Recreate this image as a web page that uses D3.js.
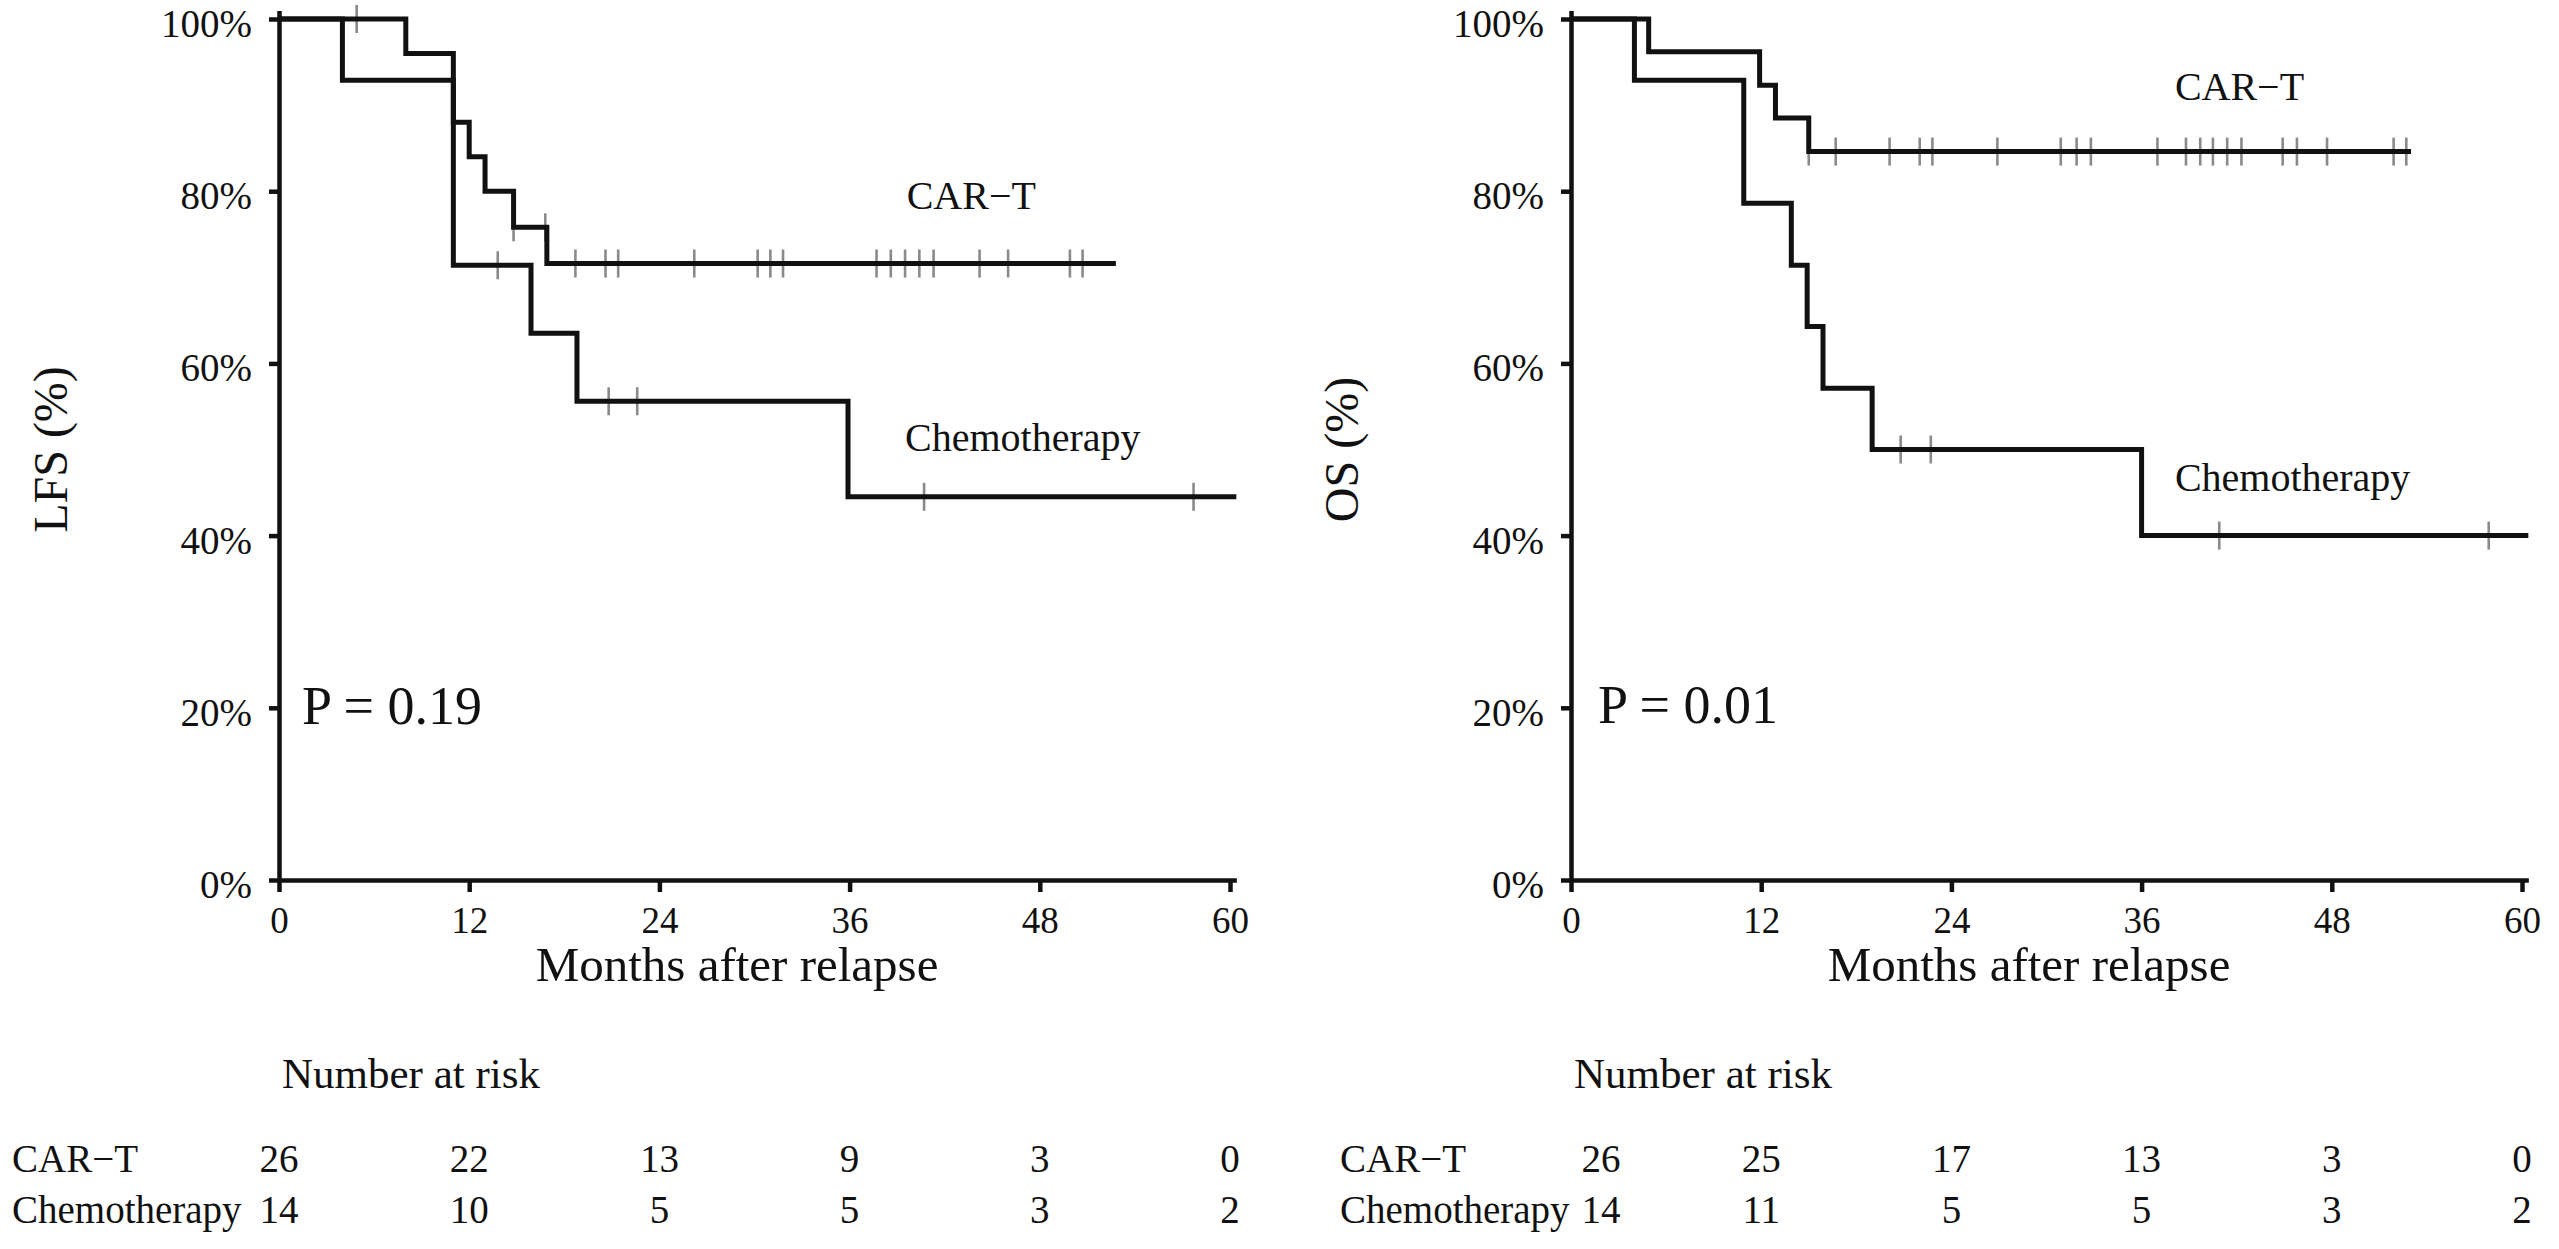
<!DOCTYPE html>
<html>
<head>
<meta charset="utf-8">
<script src="https://cdn.jsdelivr.net/npm/d3@7"></script>
<style>
  html, body { margin: 0; padding: 0; background: #fff; }
  svg { display: block; }
  text { font-family: "Liberation Serif", "Times New Roman", serif; fill: #111; }
</style>
</head>
<body>
<div id="chart"></div>
<script>
// Kaplan-Meier curves, LFS (left) and OS (right)
const monthTicks = [0, 12, 24, 36, 48, 60];
const survTicks = [0, 0.2, 0.4, 0.6, 0.8, 1];
const groups = ['CAR\u2212T', 'Chemotherapy'];

// LFS - CAR-T : [month, survival] at each drop
const lfsCarTSteps = [[0, 1], [8, 0.96], [11, 0.88], [12, 0.84], [13, 0.80], [14.8, 0.758], [16.9, 0.716]];
const lfsCarTEnd = 52.8;
const lfsCarTCensor = [4.9, 14.8, 16.8, 18.7, 20.6, 21.4, 26.2, 30.2, 31.0, 31.8, 37.7, 38.6, 39.5, 40.4, 41.3, 44.2, 46.0, 49.9, 50.7];

// LFS - Chemotherapy
const lfsChemoSteps = [[0, 1], [4, 0.929], [11, 0.714], [15.9, 0.635], [18.8, 0.556], [35.9, 0.445]];
const lfsChemoEnd = 60.4;
const lfsChemoCensor = [13.8, 20.8, 22.6, 40.7, 57.7];

// OS - CAR-T
const osCarTSteps = [[0, 1], [4.9, 0.962], [11.9, 0.923], [12.9, 0.885], [15.0, 0.846]];
const osCarTEnd = 53.0;
const osCarTCensor = [15.0, 16.7, 20.1, 22.0, 22.8, 26.9, 30.9, 31.9, 32.8, 37.0, 38.8, 39.7, 40.5, 41.4, 42.3, 44.9, 45.8, 47.7, 51.9, 52.7];

// OS - Chemotherapy
const osChemoSteps = [[0, 1], [4, 0.929], [10.9, 0.786], [13.9, 0.714], [14.9, 0.643], [15.9, 0.571], [19.0, 0.5], [36.0, 0.4]];
const osChemoEnd = 60.4;
const osChemoCensor = [20.8, 22.7, 40.9, 57.9];

// Number at risk at monthTicks
const lfsRiskCarT = [26, 22, 13, 9, 3, 0];
const lfsRiskChemo = [14, 10, 5, 5, 3, 2];
const osRiskCarT = [26, 25, 17, 13, 3, 0];
const osRiskChemo = [14, 11, 5, 5, 3, 2];

const W = 2559, H = 1249;
const pxPerMonth = 15.85;
const yTop = 19, yBottom = 880;

const panels = [
  {
    ylabel: 'LFS (%)', p: 'P = 0.19', x0: 279, ylabelX: 67,
    curves: [
      { steps: lfsCarTSteps, end: lfsCarTEnd, censor: lfsCarTCensor },
      { steps: lfsChemoSteps, end: lfsChemoEnd, censor: lfsChemoCensor }
    ],
    labels: [[39.6, 0.779], [39.5, 0.498]],
    pPos: [1.45, 0.181],
    risk: [lfsRiskCarT, lfsRiskChemo],
    rowLabelX: 12, firstColShift: 0
  },
  {
    ylabel: 'OS (%)', p: 'P = 0.01', x0: 1571, ylabelX: 1358,
    curves: [
      { steps: osCarTSteps, end: osCarTEnd, censor: osCarTCensor },
      { steps: osChemoSteps, end: osChemoEnd, censor: osChemoCensor }
    ],
    labels: [[38.1, 0.906], [38.1, 0.452]],
    pPos: [1.7, 0.182],
    risk: [osRiskCarT, osRiskChemo],
    rowLabelX: 1340, firstColShift: 30
  }
];

const svg = d3.select('#chart').append('svg')
  .attr('width', W)
  .attr('height', H);

// value of the step function at time t
function survAt(steps, t) {
  let v = steps[0][1];
  steps.forEach(s => { if (s[0] <= t) v = s[1]; });
  return v;
}

panels.forEach(pn => {
  const x = d3.scaleLinear().domain([0, 60.4]).range([pn.x0, pn.x0 + 60.4 * pxPerMonth]);
  const y = d3.scaleLinear().domain([0, 1.01]).range([yBottom, yBottom - (yBottom - yTop) * 1.01]);

  const g = svg.append('g');

  // axes
  const yAxis = g.append('g')
    .attr('transform', `translate(${pn.x0},0)`)
    .call(d3.axisLeft(y).tickValues(survTicks).tickFormat(d3.format('.0%'))
      .tickSize(10).tickSizeOuter(0).tickPadding(17));
  yAxis.selectAll('text').attr('font-size', 39).attr('dy', '0.45em')
    .style('font-family', '"Liberation Serif", serif');

  const xAxis = g.append('g')
    .attr('transform', `translate(0,${yBottom})`)
    .call(d3.axisBottom(x).tickValues(monthTicks).tickSize(12).tickSizeOuter(0).tickPadding(15));
  xAxis.selectAll('text').attr('font-size', 37)
    .style('font-family', '"Liberation Serif", serif');

  g.selectAll('.domain, .tick line')
    .attr('stroke', '#111')
    .attr('stroke-width', 4.5);

  // axis titles
  g.append('text')
    .attr('transform', `translate(${pn.ylabelX},${(yTop + yBottom) / 2}) rotate(-90)`)
    .attr('text-anchor', 'middle')
    .attr('font-size', 48)
    .text(pn.ylabel);

  g.append('text')
    .attr('x', x(28.9))
    .attr('y', 981)
    .attr('text-anchor', 'middle')
    .attr('font-size', 49)
    .text('Months after relapse');

  // curves
  const line = d3.line()
    .x(d => x(d[0]))
    .y(d => y(d[1]))
    .curve(d3.curveStepAfter);

  pn.curves.forEach(c => {
    const pts = c.steps.concat([[c.end, c.steps[c.steps.length - 1][1]]]);
    g.append('g')
      .selectAll('line')
      .data(c.censor)
      .enter().append('line')
      .attr('x1', d => x(d))
      .attr('x2', d => x(d))
      .attr('y1', d => y(survAt(c.steps, d)) - 14)
      .attr('y2', d => y(survAt(c.steps, d)) + 14)
      .attr('stroke', '#8a8a8a')
      .attr('stroke-width', 2.6);
    g.append('path')
      .datum(pts)
      .attr('d', line)
      .attr('fill', 'none')
      .attr('stroke', '#111')
      .attr('stroke-width', 5)
      .attr('stroke-linejoin', 'miter');
  });

  // curve labels
  pn.labels.forEach((l, i) => {
    g.append('text')
      .attr('x', x(l[0]))
      .attr('y', y(l[1]))
      .attr('font-size', 40)
      .text(groups[i]);
  });

  g.append('text')
    .attr('x', x(pn.pPos[0]))
    .attr('y', y(pn.pPos[1]))
    .attr('font-size', 54)
    .text(pn.p);

  // number at risk table
  g.append('text')
    .attr('x', pn.x0 + 3)
    .attr('y', 1088)
    .attr('font-size', 43)
    .text('Number at risk');

  const rowY = [1172, 1223];
  pn.risk.forEach((row, r) => {
    g.append('text')
      .attr('x', pn.rowLabelX)
      .attr('y', rowY[r])
      .attr('font-size', 39)
      .text(groups[r]);
    g.append('g')
      .selectAll('text')
      .data(row)
      .enter().append('text')
      .attr('x', (d, i) => x(monthTicks[i]) + (i === 0 ? pn.firstColShift : 0))
      .attr('y', rowY[r])
      .attr('text-anchor', 'middle')
      .attr('font-size', 39)
      .text(d => d);
  });
});
</script>
</body>
</html>
